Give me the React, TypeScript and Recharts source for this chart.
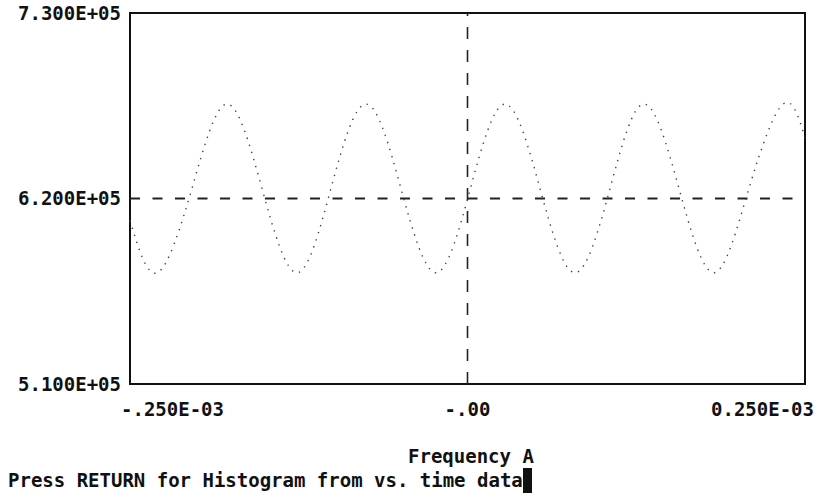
import React from "react";
import {
  LineChart, Line, XAxis, YAxis, ReferenceLine, ReferenceArea
} from "recharts";

// time (s) at the peaks / troughs / mid crossings
const TIMES = [
  -286e-6, -262.7e-6, -233.5e-6, -203.8e-6, -174.2e-6, -144.5e-6, -115.7e-6,
  -86.0e-6, -56.4e-6, -26.7e-6, 2.5e-6, 31.8e-6, 61.4e-6, 91.1e-6,
  120.8e-6, 149.6e-6, 179.2e-6, 208.9e-6, 238.5e-6, 267.4e-6, 286e-6,
];
const FREQ = [
  607000, 576000, 626000, 676000, 626000, 576000, 626000,
  676000, 626000, 576000, 626000, 676000, 626000, 576000,
  626000, 676000, 626000, 576000, 626000, 676000, 656000,
];

const X_TICKS = [-0.25e-3, 0, 0.25e-3];
const X_LABELS = ["-.250E-03", "-.00", "0.250E-03"];
const Y_TICKS = [510000, 620000, 730000];
const Y_LABELS = ["5.100E+05", "6.200E+05", "7.300E+05"];
const X_MIN = -0.286e-3;
const X_MAX = 0.286e-3;

const data = TIMES.map((t, i) => ({ t, f: FREQ[i] }));

const FONT = "'DejaVu Sans Mono', 'Liberation Mono', monospace";
const tickStyle = { fontFamily: FONT, fontSize: 19, fontWeight: 700, fill: "#111" };

export default function App() {
  return (
    <div style={{ position: "absolute", left: 0, top: 0, width: 817, height: 498, background: "#fff" }}>
      <LineChart
        width={817}
        height={440}
        data={data}
        margin={{ top: 13, right: 12, left: 0, bottom: 16 }}
      >
        <XAxis
          dataKey="t"
          type="number"
          domain={[X_MIN, X_MAX]}
          ticks={X_TICKS}
          tickFormatter={(v: number) => X_LABELS[X_TICKS.indexOf(v)] ?? ""}
          tick={tickStyle}
          tickLine={false}
          tickSize={0}
          tickMargin={19}
          axisLine={false}
          height={40}
          interval={0}
        />
        <YAxis
          type="number"
          domain={[510000, 730000]}
          ticks={Y_TICKS}
          tickFormatter={(v: number) => Y_LABELS[Y_TICKS.indexOf(v)] ?? ""}
          tick={tickStyle}
          tickLine={false}
          tickSize={0}
          tickMargin={9}
          axisLine={false}
          width={130}
          interval={0}
        />
        <ReferenceArea
          x1={X_MIN} x2={X_MAX} y1={510000} y2={730000}
          fill="none" stroke="#111" strokeWidth={2}
        />
        <ReferenceLine y={620000} stroke="#222" strokeWidth={1.8} strokeDasharray="10 12.5" />
        <ReferenceLine x={0} stroke="#222" strokeWidth={1.6} strokeDasharray="12 11" />
        <Line
          dataKey="f"
          type="natural"
          stroke="#444"
          strokeWidth={1.4}
          strokeDasharray="1.4 6"
          dot={false}
          isAnimationActive={false}
        />
      </LineChart>
      <div style={{ position: "absolute", left: 408, top: 444, fontFamily: FONT, fontSize: 19, fontWeight: 700, color: "#111", whiteSpace: "pre", lineHeight: "24px" }}>
        Frequency A
      </div>
      <div style={{ position: "absolute", left: 8, top: 468, fontFamily: FONT, fontSize: 19, fontWeight: 700, color: "#111", whiteSpace: "pre", lineHeight: "24px" }}>
        Press RETURN for Histogram from vs. time data
        <span style={{ display: "inline-block", width: 9, height: 25, background: "#111", verticalAlign: "-6px" }} />
      </div>
    </div>
  );
}
